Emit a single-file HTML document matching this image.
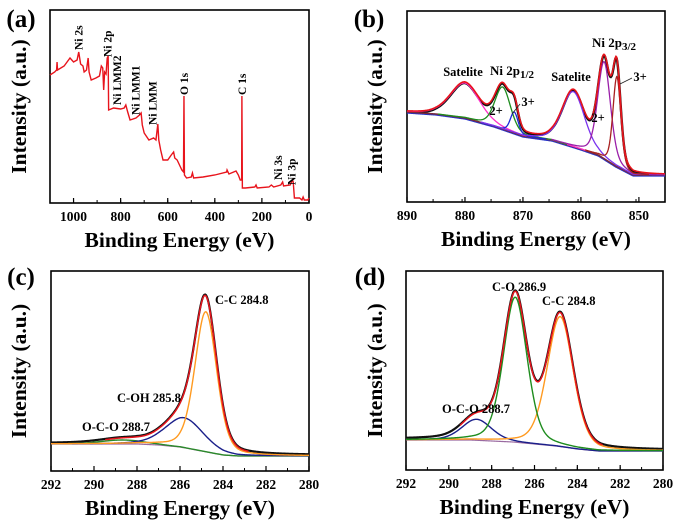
<!DOCTYPE html>
<html><head><meta charset="utf-8"><style>
html,body{margin:0;padding:0;background:#fff;}
svg{display:block;font-family:"Liberation Serif",serif;font-weight:bold;}
</style></head><body>
<svg id="fig" width="675" height="523" viewBox="0 0 675 523" xmlns="http://www.w3.org/2000/svg">
<g id="pa"></g>
<g id="pb"></g>
<g id="pc"></g>
<g id="pd"></g>
</svg>
<script>
// ---- Panel a: survey data ----
const surveyBE = [1100,1080,1072,1070,1068,1040,1015,1000,985,978,970,960,955,945,938,934,925,905,890,882,876,872,868,862,857,853,851,830,800,785,778,770,760,735,720,713,708,700,680,660,650,645,642,638,630,620,600,585,575,570,560,550,540,533,531,529,520,500,495,490,450,400,350,348,340,320,310,300,292,286,285,283,270,230,225,220,170,160,150,120,112,108,80,70,67,62,40,30,25,20,5,0];
const surveyI = [128,131,133,141,133,137,145,141,143,151,139,137,131,133,145,131,123,125,127,137,135,113,131,129,145,147,93,95,94,95,98,91,83,85,88,90,78,70,63,65,63,73,79,63,53,43,43,48,51,45,43,38,33,31,107,28,25,26,30,25,26,28,31,33,29,31,32,28,23,23,107,15,15,16,18,15,16,18,16,18,21,17,18,23,21,5,5,3,6,3,3,5];
const surveyTicks = [1000,800,600,400,200,0];
const surveyLabels = ["Ni 2s","Ni 2p","Ni LMM2","Ni LMM1","Ni LMM","O 1s","C 1s","Ni 3s","Ni 3p"];
const surveyLabelBE = [980,855,815,737,665,531,285,132,75];
const surveyLabelI = [153,146,98,88,78,108,108,23,18];

// ---- Panel b: Ni 2p ----
const bBgBE = [890,885,880,875,870,865,860,857,854,851,848,845.5];
const bBgI = [90,88,84,76,66,62,53,47,36,27,27,27];
const bPeakNames = ["satellite-1","ni2p12-2plus","ni2p12-3plus","satellite-2","ni2p32-2plus","ni2p32-3plus"];
const bCenters = [880,873.5,871.5,861.3,856,853.8];
const bHeights = [35,42,21,55,97,90];
const bWidths = [3.0,1.6,0.8,2.3,1.3,0.8];
const bColors = ["#ff30c8","#1e8c1e","#1a2ad8","#7a33ee","#9a1ea8","#a82020"];
const bTicks = [890,880,870,860,850];

// ---- Panel c: C 1s ----
const cBgBE = [292,289,288,287,286,285,284,283.3,282,280];
const cBgI = [27,27,27,26,24,20,16,15,15,15];
const cCenters = [284.8,285.8,288.7];
const cHeights = [140,30,4];
const cWidths = [0.6,1.05,1.2];
const cColors = ["#ff9a20","#1a1f8a","#2a8a2a"];
const cNames = ["c-c-peak","c-oh-peak","o-c-o-peak"];

// ---- Panel d: C 1s ----
const dBgBE = [292,289,287,286,285,284,283,280];
const dBgI = [30,30,28,26,24,21,19,19];
const dCenters = [286.9,284.8,288.7];
const dHeights = [145,130,21];
const dWidths = [0.65,0.72,0.82];
const dColors = ["#1e8c1e","#ff9a20","#1a1f8a"];
const dNames = ["c-o-peak","c-c-peak","o-c-o-peak"];
const cdTicks = [292,290,288,286,284,282,280];

const NS = "http://www.w3.org/2000/svg";
function mk(parent, tag, attrs, txt){
  const e = document.createElementNS(NS, tag);
  for (const k in attrs) e.setAttribute(k, attrs[k]);
  if (txt !== undefined) e.textContent = txt;
  parent.appendChild(e);
  return e;
}
function interp(xs, ys, x){
  if (x >= xs[0]) return ys[0];
  for (let i=0;i<xs.length-1;i++){
    if (x <= xs[i] && x >= xs[i+1]){
      const t = (xs[i]-x)/(xs[i]-xs[i+1]);
      return ys[i] + t*(ys[i+1]-ys[i]);
    }
  }
  return ys[ys.length-1];
}
function pv(x,c,h,w){
  const u=(x-c)/w;
  return h*(0.7*Math.exp(-0.693*u*u)+0.3/(1+u*u));
}
function axes(g, L, R, T, B, xMax, xMin, ticks, minorStep, letter, lx, ly, ytx){
  const sx = v => L + (xMax - v)/(xMax - xMin)*(R-L);
  for (let v=xMin; v<=xMax+1e-6; v+=minorStep){
    const t = mk(g,"line",{x1:sx(v),x2:sx(v),y1:B,y2:B-3,stroke:"#000","stroke-width":1});
    
    
  }
  ticks.forEach(v=>{
    const t = mk(g,"line",{x1:sx(v),x2:sx(v),y1:B,y2:B-5,stroke:"#000","stroke-width":1.2});
    
    
    const l = mk(g,"text",{x:sx(v),y:B+18,"text-anchor":"middle","font-size":"13.5"},String(v));
    
    
  });
  const f = mk(g,"rect",{x:L,y:T,width:R-L,height:B-T,fill:"none",stroke:"#000","stroke-width":1.6});
  
  
  const xt = mk(g,"text",{x:(L+R)/2,y:B+44,"text-anchor":"middle","font-size":"21.5"},"Binding Energy (eV)");
  
  
  const yt = mk(g,"text",{x:0,y:0,"text-anchor":"middle","font-size":"21.5",transform:`translate(${ytx},${(T+B)/2}) rotate(-90)`},"Intensity (a.u.)");
  
  
  const pl = mk(g,"text",{x:lx,y:ly,"text-anchor":"middle","font-size":"25"},letter);
  
  
  return sx;
}
function pathFrom(fnX, fnY, xs){
  return xs.map((v,i)=>(i?"L":"M")+fnX(v).toFixed(2)+","+fnY(v).toFixed(2)).join("");
}
function grid(a,b,n){ const r=[]; for(let i=0;i<=n;i++) r.push(a+(b-a)*i/n); return r; }

// ===== Panel a =====
(function(){
  const g=document.getElementById("pa");
  const L=50,R=309,T=10,B=203;
  const sx = axes(g,L,R,T,B,1100,0,surveyTicks,100,"(a)",21,27,26);
  const sy = v => B - v;
  const d = surveyBE.map((v,i)=>(i?"L":"M")+sx(v).toFixed(2)+","+sy(surveyI[i]).toFixed(2)).join("");
  const p = mk(g,"path",{d:d,fill:"none",stroke:"#e8141c","stroke-width":1.4});
  
  
  surveyLabels.forEach((s,i)=>{
    const x=sx(surveyLabelBE[i])+4, y=sy(surveyLabelI[i]);
    const t = mk(g,"text",{x:0,y:0,"font-size":"11.5",transform:`translate(${x},${y}) rotate(-90)`},s);
    
    
  });
})();

// ===== Panel b =====
(function(){
  const g=document.getElementById("pb");
  const L=407,R=665,T=11,B=202;
  const sx = axes(g,L,R,T,B,890,845.5,bTicks,5,"(b)",369,27,382);
  const sy = v => B - v;
  const xs = grid(890,845.5,400);
  const bg = x => interp(bBgBE,bBgI,x);
  const env = x => { let s=bg(x); for(let i=0;i<bCenters.length;i++) s+=pv(x,bCenters[i],bHeights[i],bWidths[i]); return s; };
  const raw = mk(g,"path",{d:pathFrom(sx,x=>sy(env(x))+1.2,xs),fill:"none",stroke:"#111","stroke-width":2.4});
  
  
  const bgl = mk(g,"path",{d:pathFrom(sx,x=>sy(bg(x))+1,xs),fill:"none",stroke:"#2233cc","stroke-width":1.3});
  
  
  const bgb = mk(g,"path",{d:pathFrom(sx,x=>sy(bg(x)),xs),fill:"none",stroke:"#7a2a3a","stroke-width":1.5});
  
  
  for(let i=0;i<bCenters.length;i++){
    const c=bCenters[i],h=bHeights[i],w=bWidths[i];
    const p = mk(g,"path",{d:pathFrom(sx,x=>sy(bg(x)+pv(x,c,h,w)),xs.filter(x=>Math.abs(x-c)<w*7)),fill:"none",stroke:bColors[i],"stroke-width":1.3});
    
    
  }
  const e = mk(g,"path",{d:pathFrom(sx,x=>sy(env(x)),xs),fill:"none",stroke:"#e8141c","stroke-width":1.6});
  
  
  const labs=[["Satelite",463,76,"satelite-label"],["Satelite",571,81,"satelite-label"],["2+",496,115,"2plus-label"],["3+",528,106,"3plus-label"],["2+",598,122,"2plus-label"],["3+",640,81,"3plus-label"]];
  labs.forEach(a=>{
    const t=mk(g,"text",{x:a[1],y:a[2],"text-anchor":"middle","font-size":"12.5"},a[0]);
    
    
  });
  const t1=mk(g,"text",{x:490,y:75,"font-size":"13"},"Ni 2p");
  
  
  mk(t1,"tspan",{dy:"3","font-size":"11"},"1/2");
  const t2=mk(g,"text",{x:592,y:47,"font-size":"13"},"Ni 2p");
  
  
  mk(t2,"tspan",{dy:"3","font-size":"11"},"3/2");
  [[520,104,512,114],[632,78,620,84]].forEach(a=>{
    const l=mk(g,"line",{x1:a[0],y1:a[1],x2:a[2],y2:a[3],stroke:"#222","stroke-width":0.8});
    
    
  });
})();

// ===== Panel c / d =====
function c1s(id,L,R,T,B,letter,lx,ytx,bgBE,bgI,cs,hs,ws,cols,names,labels){
  const g=document.getElementById(id);
  const sx = axes(g,L,R,T,B,292,280,cdTicks,1,letter,lx,T+14,ytx);
  const sy = v => B - v;
  const xs = grid(292,280,400);
  const bg = x => interp(bgBE,bgI,x);
  const env = x => { let s=bg(x); for(let i=0;i<cs.length;i++) s+=pv(x,cs[i],hs[i],ws[i]); return s; };
  const raw = mk(g,"path",{d:pathFrom(sx,x=>sy(env(x))-0.8,xs),fill:"none",stroke:"#111","stroke-width":2.2});
  
  
  const bgl = mk(g,"path",{d:pathFrom(sx,x=>sy(bg(x)),xs),fill:"none",stroke:"#9a6aa0","stroke-width":1.2});
  
  
  for(let i=cs.length-1;i>=0;i--){
    const p = mk(g,"path",{d:pathFrom(sx,x=>sy(bg(x)+pv(x,cs[i],hs[i],ws[i])),xs),fill:"none",stroke:cols[i],"stroke-width":1.4});
    
    
  }
  const e = mk(g,"path",{d:pathFrom(sx,x=>sy(env(x)),xs.filter(x=>x>=282.8&&x<=289.5)),fill:"none",stroke:"#e8141c","stroke-width":1.5});
  
  
  labels.forEach(a=>{
    const t=mk(g,"text",{x:a[1],y:a[2],"font-size":"12.5"},a[0]);
    
    
  });
}
c1s("pc",51,309,271,471,"(c)",21,26,cBgBE,cBgI,cCenters,cHeights,cWidths,cColors,cNames,
  [["C-C 284.8",215,304,"c-c-label"],["C-OH 285.8",117,402,"c-oh-label"],["O-C-O 288.7",82,431,"o-c-o-label"]]);
c1s("pd",406,663,271,470,"(d)",370,382,dBgBE,dBgI,dCenters,dHeights,dWidths,dColors,dNames,
  [["C-O 286.9",492,291,"c-o-label"],["C-C 284.8",542,305,"c-c-label"],["O-C-O 288.7",442,413,"o-c-o-label"]]);
</script>
</body></html>
